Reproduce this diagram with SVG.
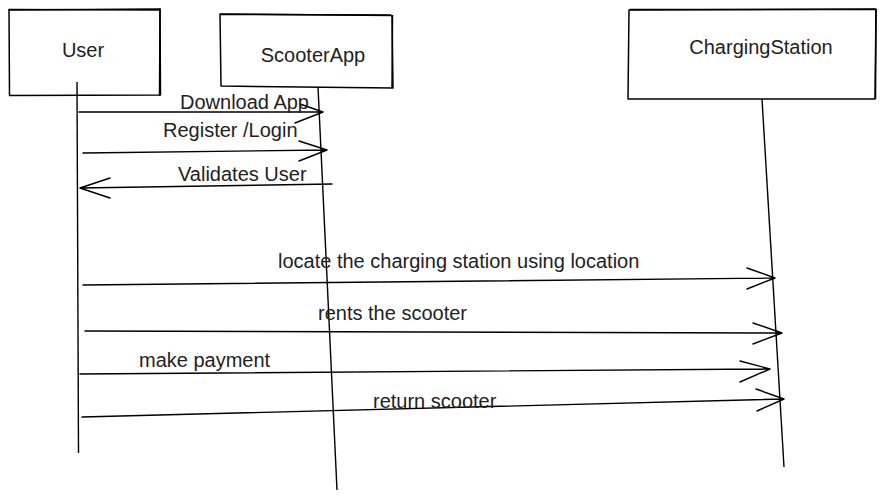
<svg xmlns="http://www.w3.org/2000/svg" width="886" height="501" viewBox="0 0 886 501">
<style>
.box{fill:#fff;stroke:#000;stroke-width:1.5;stroke-linejoin:round}
.life{fill:none;stroke:#000;stroke-width:1.4}
.msg{fill:none;stroke:#000;stroke-width:1.4;stroke-linecap:round;stroke-linejoin:round}
.t{font-family:"Liberation Sans",Arial,sans-serif;font-size:20px;fill:#222}
</style>
<rect width="886" height="501" fill="#fff"/>
<g id="node-user">
<path class="box" d="M9 10 L160 9 L160.5 95 L9.5 95.5 Z"/>
<path class="box" d="M8.5 9.5 L159.5 10 M160 8.5 L159.5 95.5" fill="none"/>
<text class="t" x="83" y="57" text-anchor="middle">User</text>
</g>
<g id="node-scooterapp">
<path class="box" d="M220 14 L392 15.5 L393 88 L221 86 Z"/>
<path class="box" d="M220.5 14.5 L391 15 M392.5 15 L392 88" fill="none"/>
<text class="t" x="313" y="62" text-anchor="middle">ScooterApp</text>
</g>
<g id="node-chargingstation">
<path class="box" d="M629 10 L876 9 L875 99 L628 99 Z"/>
<path class="box" d="M629.5 9.5 L875.5 9.5 M876 9 L875.5 99" fill="none"/>
<text class="t" x="761" y="54" text-anchor="middle">ChargingStation</text>
</g>
<g id="lifelines">
<path class="life" d="M77 82 L78.5 453"/>
<path class="life" d="M318 87 L337 490"/>
<path class="life" d="M762 99 L784 467"/>
</g>
<g id="connectors">
<path class="msg" d="M79 112 L323 112 M300 104 L323 112 L295 123"/>
<path class="msg" d="M83 153 L327 150 M299 141 L327 150 L299 161"/>
<path class="msg" d="M332 184 L80 188 M110 178 L80 188 L110 198"/>
<path class="msg" d="M83 285 L775 278 M747 268 L775 278 L747 289"/>
<path class="msg" d="M85 331 L782 333 M753 323 L782 333 L753 344"/>
<path class="msg" d="M80 374 L770 369 M740 361 L770 369 L740 382"/>
<path class="msg" d="M82 417 L784 399 M756 389 L784 399 L757 411"/>
</g>
<g id="labels">
<text class="t" x="180" y="109">Download App</text>
<text class="t" x="163" y="137">Register /Login</text>
<text class="t" x="178" y="181">Validates User</text>
<text class="t" x="278" y="268">locate the charging station using location</text>
<text class="t" x="318" y="320">rents the scooter</text>
<text class="t" x="139" y="367">make payment</text>
<text class="t" x="373" y="408">return scooter</text>
</g>
</svg>
